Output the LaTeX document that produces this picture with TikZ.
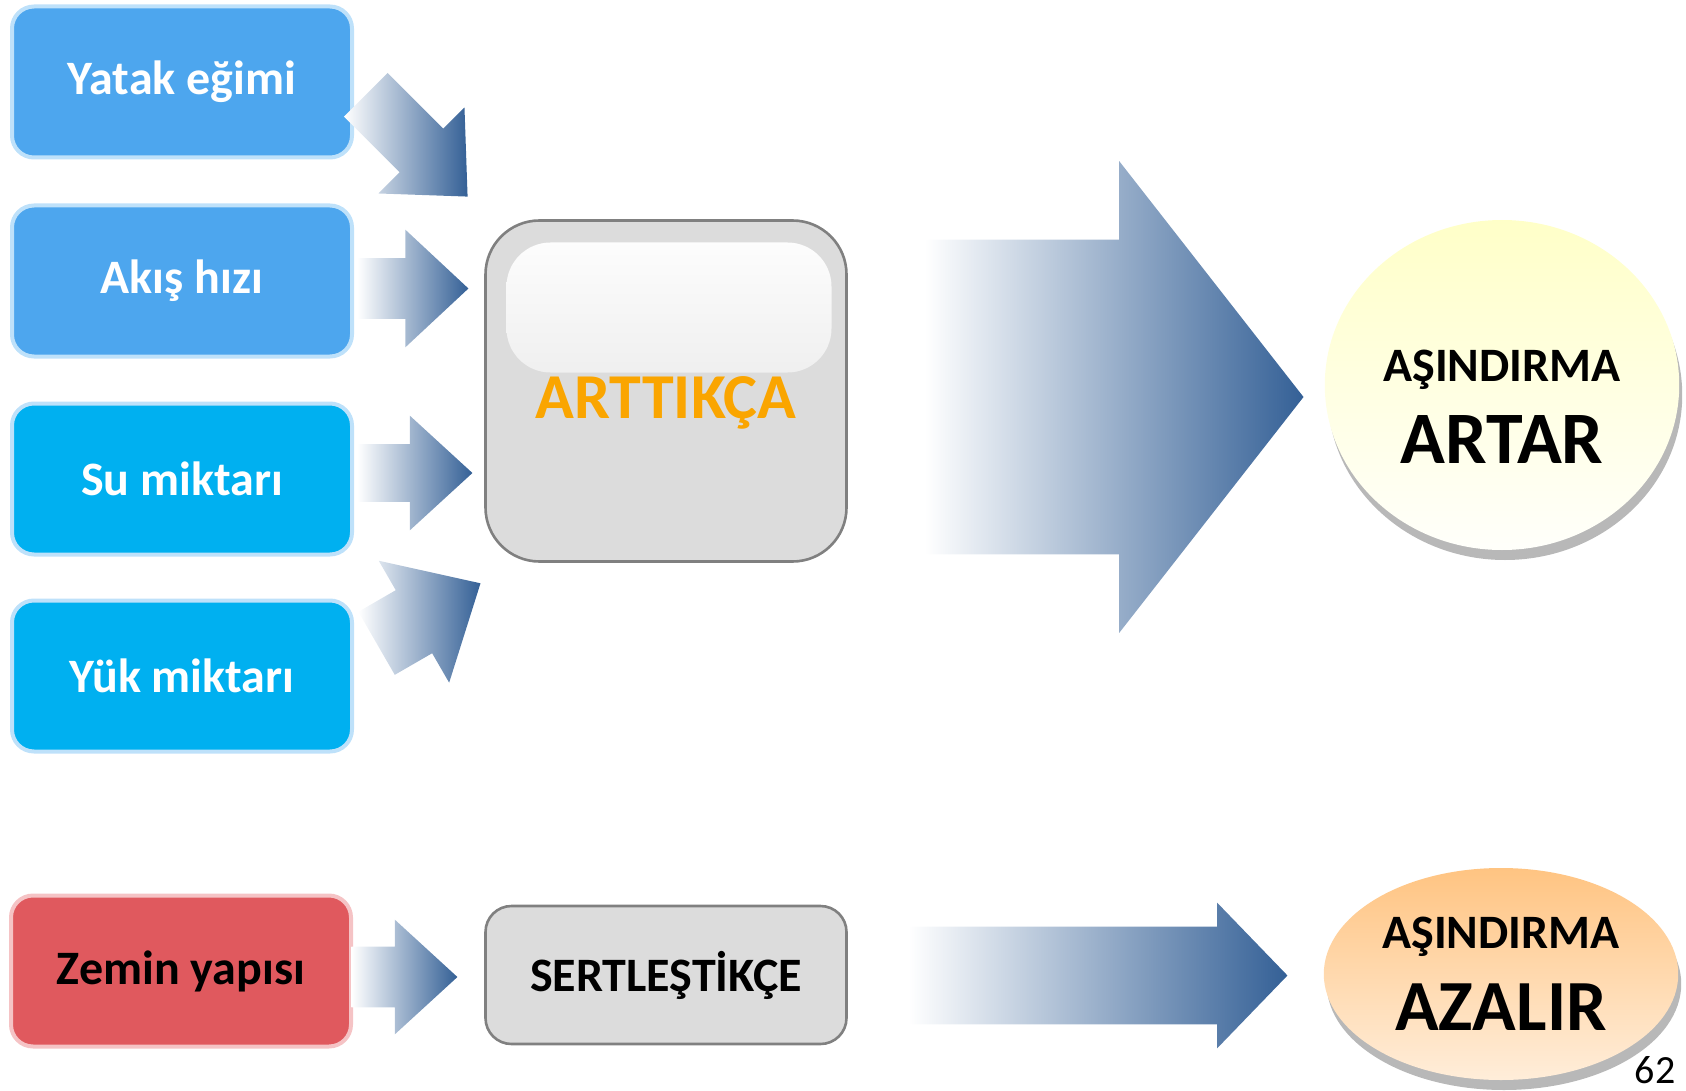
\documentclass[tikz,border=0pt]{standalone}
\usepackage{fontspec}
\setmainfont{Carlito}
\usetikzlibrary{shapes.geometric, shapes.arrows, shadows}

\definecolor{boxblue}{RGB}{77,166,238}
\definecolor{boxcyan}{RGB}{0,176,240}
\definecolor{glowblue}{RGB}{190,225,250}
\definecolor{boxred}{RGB}{224,89,94}
\definecolor{glowred}{RGB}{245,195,197}
\definecolor{panelgray}{RGB}{220,220,220}
\definecolor{edgegray}{RGB}{128,128,128}
\definecolor{arrowblue}{RGB}{52,96,150}
\definecolor{textorange}{RGB}{250,165,0}
\definecolor{paleyellow}{RGB}{255,255,200}
\definecolor{paleorange}{RGB}{255,196,130}

\tikzset{
	inbox/.style={draw=glowblue, line width=2pt, rounded corners=11pt, minimum width=170pt, minimum height=75.5pt, text=white, font=\bfseries\fontsize{24}{28}\selectfont},
	midbox/.style={draw=edgegray, line width=1.3pt, fill=panelgray, minimum width=180.5pt},
	blockarrow/.style={single arrow, left color=white, right color=arrowblue, inner xsep=0pt, anchor=tip},
	result/.style={ellipse, align=center, font=\bfseries\fontsize{24}{41}\selectfont, drop shadow={shadow xshift=1.5pt, shadow yshift=-5pt, fill=black!35, opacity=.8}}
}

\begin{document}
\begin{tikzpicture}[x=0.5pt, y=-0.5pt]
	\useasboundingbox (0,0) rectangle (1686,1091);
	
	\foreach \i/\y/\c/\t in {1/82/boxblue/Yatak eğimi, 2/281/boxblue/Akış hızı, 3/479/boxcyan/Su miktarı, 4/676/boxcyan/Yük miktarı}
	{
		\node[inbox, fill=\c] (in\i) at (182,\y) {\t};
	}
	\node[inbox, fill=boxred, draw=glowred, text=black] (zemin) at (181,971) {Zemin yapısı};
	
	\node[midbox, rounded corners=27pt, minimum height=170.5pt, text=textorange, font=\bfseries\fontsize{32}{36}\selectfont, text height=27pt, text depth=0pt,
		path picture={\shade[top color=white, bottom color=panelgray, rounded corners=22pt] ([xshift=10.5pt,yshift=-11pt]path picture bounding box.north west) rectangle ([xshift=-7.5pt,yshift=-76pt]path picture bounding box.north east);}] (arttikca) at (666,391) {ARTTIKÇA};
	\node[midbox, rounded corners=13pt, minimum height=69pt, font=\bfseries\fontsize{24}{28}\selectfont] (sert) at (666,975) {SERTLEŞTİKÇE};
	
	\node[result, top color=paleyellow, bottom color=white!92!paleyellow, minimum width=170pt, minimum height=165pt] (artar) at (1502,385) {\rule{0pt}{37pt}AŞINDIRMA\\{\fontsize{37}{41}\selectfont ARTAR}};
	\node[result, top color=paleorange, bottom color=white!70!paleorange, minimum width=173pt, minimum height=106pt] (azalir) at (1501,974) {AŞINDIRMA\\{\fontsize{36}{41}\selectfont AZALIR}};
	
	% arrows
	\node[blockarrow, minimum height=72pt, inner ysep=15.25pt, single arrow head extend=15pt, single arrow tip angle=86, rotate=-45] (a1) at (468,197) {};
	\node[blockarrow, minimum height=55.5pt, inner ysep=15pt, single arrow head extend=14.25pt, single arrow tip angle=86] (a2) at (469,288.5) {};
	\node[blockarrow, minimum height=57.5pt, inner ysep=14.25pt, single arrow head extend=14.25pt, single arrow tip angle=85] (a3) at (473,473) {};
	\node[blockarrow, minimum height=60pt, inner ysep=18pt, single arrow head extend=17pt, single arrow tip angle=85, rotate=30] (a4) at (481,583) {};
	\node[blockarrow, minimum height=53pt, inner ysep=15pt, single arrow head extend=13.5pt, single arrow tip angle=85] (a5) at (458,977) {};
	\node[blockarrow, minimum height=189.5pt, inner ysep=78.5pt, single arrow head extend=39.25pt, single arrow tip angle=104] (big1) at (1304,397) {};
	\node[blockarrow, minimum height=189.5pt, inner ysep=24.25pt, single arrow head extend=12pt, single arrow tip angle=92] (big2) at (1288,975.5) {};
	
	\node[font=\fontsize{20}{24}\selectfont, inner sep=0pt] (page) at (1655,1070) {62};
\end{tikzpicture}
\end{document}
